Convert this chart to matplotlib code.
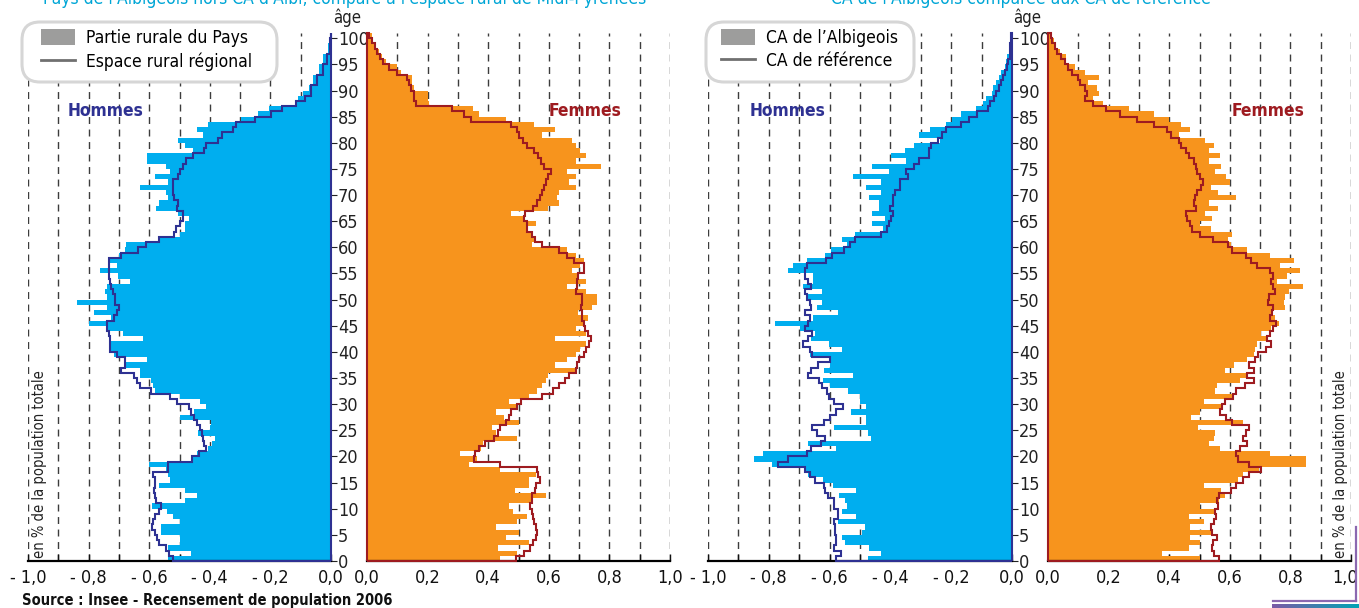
import numpy as np
import matplotlib.pyplot as plt
from matplotlib import font_manager
from matplotlib.patches import Patch, FancyBboxPatch
from matplotlib.lines import Line2D
from matplotlib.transforms import IdentityTransform, ScaledTranslation
from matplotlib.colors import LinearSegmentedColormap

# ages 0..100, values in % de la population totale
ages = np.arange(101)

# Pays de l'Albigeois hors CA d'Albi (barres) / espace rural regional (ligne)
pays_h = [0.539, 0.463, 0.539, 0.5, 0.5, 0.56, 0.56, 0.5, 0.522, 0.542,
          0.592, 0.483, 0.442, 0.483, 0.567, 0.532, 0.539, 0.546, 0.601, 0.463,
          0.442, 0.407, 0.393, 0.383, 0.439, 0.4, 0.396, 0.5, 0.453, 0.414,
          0.432, 0.497, 0.581, 0.588, 0.594, 0.629, 0.632, 0.678, 0.608, 0.717,
          0.726, 0.726, 0.622, 0.685, 0.74, 0.8, 0.726, 0.782, 0.74, 0.838,
          0.74, 0.747, 0.74, 0.664, 0.703, 0.761, 0.706, 0.733, 0.699, 0.681,
          0.678, 0.567, 0.497, 0.483, 0.483, 0.469, 0.504, 0.578, 0.567, 0.539,
          0.546, 0.629, 0.539, 0.581, 0.532, 0.546, 0.608, 0.608, 0.456, 0.483,
          0.504, 0.421, 0.442, 0.407, 0.296, 0.24, 0.206, 0.115, 0.108, 0.092,
          0.074, 0.06, 0.06, 0.039, 0.039, 0.025, 0.025, 0.011, 0.011, 0.008,
          0.004]
rural_h = [0.522, 0.536, 0.546, 0.567, 0.574, 0.581, 0.592, 0.588, 0.581, 0.567,
           0.56, 0.578, 0.581, 0.583, 0.581, 0.581, 0.588, 0.539, 0.539, 0.458,
           0.435, 0.414, 0.418, 0.421, 0.425, 0.431, 0.442, 0.453, 0.463, 0.469,
           0.508, 0.532, 0.594, 0.629, 0.639, 0.65, 0.692, 0.681, 0.681, 0.706,
           0.731, 0.731, 0.731, 0.733, 0.74, 0.74, 0.717, 0.706, 0.699, 0.713,
           0.713, 0.719, 0.726, 0.731, 0.733, 0.733, 0.733, 0.733, 0.692, 0.636,
           0.611, 0.569, 0.518, 0.511, 0.497, 0.49, 0.49, 0.507, 0.504, 0.519,
           0.522, 0.522, 0.522, 0.504, 0.497, 0.49, 0.479, 0.456, 0.418, 0.414,
           0.372, 0.361, 0.324, 0.314, 0.251, 0.199, 0.161, 0.115, 0.086, 0.067,
           0.067, 0.046, 0.046, 0.028, 0.028, 0.014, 0.014, 0.004, 0.004, 0.002,
           0.001]
pays_f = [0.439, 0.494, 0.432, 0.536, 0.46, 0.501, 0.425, 0.494, 0.529, 0.481,
          0.467, 0.543, 0.592, 0.488, 0.536, 0.536, 0.557, 0.439, 0.335, 0.363,
          0.307, 0.376, 0.383, 0.494, 0.425, 0.411, 0.501, 0.453, 0.425, 0.494,
          0.467, 0.536, 0.561, 0.578, 0.592, 0.599, 0.689, 0.619, 0.661, 0.689,
          0.703, 0.724, 0.619, 0.724, 0.689, 0.717, 0.731, 0.696, 0.744, 0.758,
          0.758, 0.724, 0.661, 0.724, 0.696, 0.675, 0.703, 0.717, 0.689, 0.661,
          0.543, 0.55, 0.543, 0.529, 0.557, 0.522, 0.474, 0.599, 0.633, 0.626,
          0.633, 0.689, 0.668, 0.689, 0.661, 0.772, 0.689, 0.724, 0.703, 0.689,
          0.675, 0.578, 0.619, 0.55, 0.46, 0.369, 0.349, 0.203, 0.2, 0.2,
          0.154, 0.147, 0.15, 0.113, 0.099, 0.064, 0.05, 0.039, 0.029, 0.019,
          0.015]
rural_f = [0.492, 0.519, 0.539, 0.547, 0.557, 0.561, 0.557, 0.55, 0.547, 0.543,
           0.539, 0.543, 0.543, 0.553, 0.557, 0.571, 0.564, 0.56, 0.44, 0.353,
           0.356, 0.369, 0.39, 0.418, 0.432, 0.439, 0.46, 0.467, 0.474, 0.494,
           0.508, 0.578, 0.613, 0.633, 0.654, 0.668, 0.689, 0.692, 0.7, 0.717,
           0.724, 0.733, 0.738, 0.728, 0.719, 0.717, 0.711, 0.71, 0.706, 0.71,
           0.71, 0.689, 0.692, 0.692, 0.696, 0.717, 0.717, 0.682, 0.661, 0.633,
           0.578, 0.553, 0.543, 0.529, 0.529, 0.519, 0.522, 0.547, 0.561, 0.571,
           0.578, 0.585, 0.592, 0.599, 0.608, 0.585, 0.575, 0.564, 0.55, 0.529,
           0.515, 0.501, 0.494, 0.474, 0.342, 0.321, 0.279, 0.161, 0.154, 0.154,
           0.144, 0.14, 0.131, 0.099, 0.071, 0.053, 0.043, 0.033, 0.025, 0.017,
           0.008]

# CA de l'Albigeois (barres) / CA de reference (ligne)
ca_h = [0.474, 0.432, 0.471, 0.55, 0.56, 0.494, 0.485, 0.571, 0.512, 0.56,
        0.543, 0.55, 0.568, 0.512, 0.59, 0.623, 0.67, 0.681, 0.789, 0.848,
        0.82, 0.578, 0.67, 0.463, 0.474, 0.587, 0.481, 0.481, 0.529, 0.481,
        0.501, 0.501, 0.54, 0.598, 0.623, 0.522, 0.619, 0.598, 0.596, 0.665,
        0.56, 0.601, 0.661, 0.647, 0.698, 0.778, 0.654, 0.571, 0.64, 0.626,
        0.675, 0.626, 0.688, 0.654, 0.654, 0.737, 0.72, 0.675, 0.615, 0.596,
        0.543, 0.56, 0.518, 0.425, 0.46, 0.418, 0.46, 0.439, 0.439, 0.471,
        0.432, 0.481, 0.432, 0.522, 0.404, 0.46, 0.349, 0.398, 0.352, 0.321,
        0.238, 0.307, 0.269, 0.217, 0.197, 0.169, 0.12, 0.097, 0.086, 0.065,
        0.062, 0.051, 0.042, 0.037, 0.024, 0.019, 0.017, 0.01, 0.01, 0.008,
        0.006]
ref_h = [0.578, 0.564, 0.584, 0.578, 0.578, 0.582, 0.582, 0.587, 0.571, 0.571,
         0.587, 0.587, 0.605, 0.615, 0.619, 0.647, 0.665, 0.681, 0.771, 0.737,
         0.675, 0.661, 0.629, 0.615, 0.64, 0.657, 0.619, 0.598, 0.578, 0.557,
         0.584, 0.601, 0.609, 0.626, 0.636, 0.67, 0.661, 0.637, 0.598, 0.657,
         0.665, 0.688, 0.67, 0.657, 0.681, 0.67, 0.665, 0.681, 0.661, 0.665,
         0.675, 0.681, 0.661, 0.67, 0.681, 0.681, 0.675, 0.612, 0.591, 0.554,
         0.532, 0.515, 0.432, 0.411, 0.404, 0.398, 0.391, 0.402, 0.393, 0.391,
         0.384, 0.37, 0.37, 0.342, 0.349, 0.321, 0.307, 0.273, 0.273, 0.266,
         0.245, 0.231, 0.217, 0.169, 0.141, 0.114, 0.079, 0.072, 0.058, 0.051,
         0.044, 0.037, 0.03, 0.024, 0.017, 0.012, 0.008, 0.006, 0.006, 0.004,
         0.003]
ca_f = [0.503, 0.375, 0.464, 0.503, 0.468, 0.542, 0.468, 0.514, 0.464, 0.551,
        0.503, 0.565, 0.583, 0.572, 0.514, 0.628, 0.642, 0.697, 0.85, 0.85,
        0.732, 0.569, 0.531, 0.547, 0.551, 0.496, 0.642, 0.472, 0.503, 0.579,
        0.514, 0.607, 0.551, 0.558, 0.635, 0.656, 0.583, 0.614, 0.656, 0.681,
        0.683, 0.69, 0.725, 0.704, 0.736, 0.764, 0.75, 0.739, 0.783, 0.778,
        0.781, 0.794, 0.843, 0.756, 0.788, 0.833, 0.767, 0.811, 0.732, 0.656,
        0.603, 0.593, 0.607, 0.538, 0.503, 0.542, 0.517, 0.561, 0.531, 0.621,
        0.561, 0.538, 0.6, 0.589, 0.551, 0.572, 0.531, 0.569, 0.531, 0.547,
        0.517, 0.433, 0.468, 0.44, 0.399, 0.35, 0.267, 0.183, 0.149, 0.169,
        0.163, 0.131, 0.169, 0.121, 0.089, 0.061, 0.058, 0.038, 0.028, 0.019,
        0.014]
ref_f = [0.565, 0.547, 0.542, 0.544, 0.558, 0.542, 0.538, 0.547, 0.556, 0.551,
         0.561, 0.558, 0.565, 0.603, 0.621, 0.642, 0.663, 0.704, 0.663, 0.628,
         0.621, 0.635, 0.656, 0.642, 0.653, 0.663, 0.607, 0.586, 0.569, 0.575,
         0.583, 0.611, 0.621, 0.649, 0.681, 0.658, 0.681, 0.663, 0.683, 0.694,
         0.718, 0.736, 0.722, 0.732, 0.742, 0.753, 0.732, 0.739, 0.742, 0.725,
         0.728, 0.75, 0.742, 0.736, 0.742, 0.732, 0.69, 0.669, 0.653, 0.607,
         0.593, 0.544, 0.503, 0.475, 0.468, 0.458, 0.454, 0.489, 0.482, 0.486,
         0.492, 0.506, 0.51, 0.503, 0.492, 0.489, 0.482, 0.464, 0.454, 0.44,
         0.431, 0.406, 0.392, 0.35, 0.294, 0.239, 0.19, 0.149, 0.121, 0.128,
         0.121, 0.107, 0.1, 0.079, 0.065, 0.056, 0.042, 0.031, 0.024, 0.014,
         0.01]

men_ticks = ['- 1,0', '- 0,8', '- 0,6', '- 0,4', '- 0,2', '0,0']
women_ticks = ['0,0', '0,2', '0,4', '0,6', '0,8', '1,0']

BLUE, ORANGE = '#00aeef', '#f7941d'
NAVY, DARKRED = '#2e3192', '#9e1b20'
CYAN = '#00a6d6'

names = {f.name for f in font_manager.fontManager.ttflist}
narrow = 'Liberation Sans Narrow' if 'Liberation Sans Narrow' in names else 'DejaVu Sans'
plt.rcParams['font.family'] = [narrow, 'DejaVu Sans']
plt.rcParams['font.stretch'] = 'condensed'

W, H = 1359, 608
fig = plt.figure(figsize=(W / 100, H / 100), dpi=100)


def fx(x):
    return x / W


def fy(y):
    return 1 - y / H


bottom, top = 561, 33
edges = np.arange(102)


def half(x0, x1, bars, line, sign, fc, lc):
    ax = fig.add_axes([fx(x0), fy(bottom), (x1 - x0) / W, (bottom - top) / H])
    ax.barh(ages, sign * np.array(bars), height=1, align='edge', color=fc, lw=0, zorder=2)
    ax.stairs(sign * np.array(line), edges, orientation='horizontal',
              baseline=np.zeros(len(ages)), color=lc, lw=1.5, zorder=3, clip_on=False)
    ax.set_ylim(0, 101)
    if sign < 0:
        ax.set_xlim(-1, 0)
        ax.set_xticks(np.linspace(-1, 0, 6), men_ticks)
        ax.set_xticks(np.linspace(-1, 0, 11), minor=True)
        ax.yaxis.tick_right()
        ax.set_yticks(np.arange(0, 101, 5))
        ax.tick_params(axis='y', direction='out', length=4, pad=1, labelsize=13,
                       colors='#222222')
    else:
        ax.set_xlim(0, 1)
        ax.set_xticks(np.linspace(0, 1, 6), women_ticks)
        ax.set_xticks(np.linspace(0, 1, 11), minor=True)
        ax.set_yticks([])
    ax.tick_params(axis='x', which='both', direction='in', length=5, width=1,
                   pad=6, labelsize=13, colors='#111111')
    ax.grid(axis='x', which='both', color='#3c3c3c', lw=1, ls=(0, (5, 4)))
    ax.set_axisbelow(True)
    for s in ['top', 'left', 'right']:
        ax.spines[s].set_visible(False)
    ax.spines['bottom'].set_linewidth(1.6)
    ax.patch.set_alpha(0)
    return ax


half(28, 331, pays_h, rural_h, -1, BLUE, NAVY)
half(367, 670, pays_f, rural_f, 1, ORANGE, DARKRED)
half(708, 1012, ca_h, ref_h, -1, BLUE, NAVY)
ax_rf = half(1048, 1351, ca_f, ref_f, 1, ORANGE, DARKRED)
# last label sits a little left of its tick in the source
last = ax_rf.get_xticklabels()[-1]
last.set_transform(last.get_transform() + ScaledTranslation(-6 / 100, 0, fig.dpi_scale_trans))

# titles (cut by the top edge in the source)
fig.text(fx(345), fy(4), "Pays de l'Albigeois hors CA d'Albi, comparé à l'espace rural de Midi-Pyrénées",
         ha='center', va='baseline', color=CYAN, fontsize=12.5)
fig.text(fx(1021), fy(4), "CA de l'Albigeois comparée aux CA de référence",
         ha='center', va='baseline', color=CYAN, fontsize=12.5)

for xc in (347, 1027):
    fig.text(fx(xc), fy(18), 'âge', ha='center', va='center', fontsize=12, color='#222222')

for xh, xf in ((106, 585), (788, 1268)):
    fig.text(fx(xh), fy(111), 'Hommes', ha='center', va='center', fontsize=12.5,
             fontweight='bold', color=NAVY)
    fig.text(fx(xf), fy(111), 'Femmes', ha='center', va='center', fontsize=12.5,
             fontweight='bold', color=DARKRED)

for xv in (40, 1340):
    fig.text(fx(xv), fy(464), 'en % de la population totale', rotation=90,
             ha='center', va='center', fontsize=10.5, color='#222222')

fig.text(fx(22), fy(600), 'Source : Insee - Recensement de population 2006',
         ha='left', va='center', fontsize=10.5, fontweight='bold', color='#111111')

# legends: rounded white box + frameless legend
for x0, x1, hx, labels in ((22, 277, 41, ['Partie rurale du Pays', 'Espace rural régional']),
                           (706, 914, 721, ['CA de l’Albigeois', 'CA de référence'])):
    box = FancyBboxPatch((x0, H - 82), x1 - x0, 60,
                         boxstyle='round,pad=0,rounding_size=18',
                         transform=IdentityTransform(), facecolor='white',
                         edgecolor='#d6d6d6', lw=2.2, zorder=5)
    fig.add_artist(box)
    handles = [Patch(facecolor='#9d9d9c', edgecolor='none'),
               Line2D([], [], color='#707070', lw=2)]
    leg = fig.legend(handles, labels, loc='upper left', bbox_to_anchor=(fx(hx), fy(29)),
                     borderaxespad=0, borderpad=0, frameon=False, fontsize=12.5,
                     handlelength=1.95, handleheight=1.0, handletextpad=0.65,
                     labelspacing=0.3)
    leg.set_zorder(6)

# bottom-right decoration
fig.add_artist(Line2D([fx(1356), fx(1356)], [fy(527), fy(601)], color='#8b68b0', lw=1.6))
fig.add_artist(Line2D([fx(1273), fx(1356)], [fy(601), fy(601)], color='#8b68b0', lw=1.6))
gax = fig.add_axes([fx(1272), fy(608), (1359 - 1272) / W, 4 / H])
gax.imshow(np.linspace(0, 1, 64)[None, :], aspect='auto',
           cmap=LinearSegmentedColormap.from_list('g', ['#7b5aa6', '#00a3b4']))
gax.axis('off')

fig.savefig('out.png', dpi=100)
